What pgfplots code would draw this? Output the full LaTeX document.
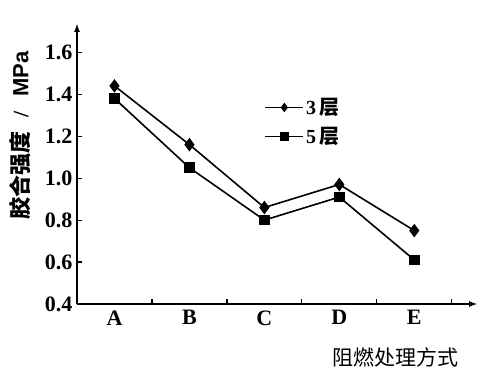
\documentclass[border=0pt]{standalone}
\usepackage{pgfplots}
\pgfplotsset{compat=1.18}
\usepackage{fontspec}
\setmainfont{Liberation Serif}
\setsansfont{Liberation Sans}
\newfontfamily\cjk{Noto Sans CJK SC}
\usetikzlibrary{arrows.meta}
\begin{document}
\begin{tikzpicture}[x=1pt,y=1pt]
\path[use as bounding box] (0,0) rectangle (500,377);
\begin{axis}[
  at={(77pt,73pt)}, anchor=south west,
  scale only axis, width=401pt, height=281pt,
  xmin=-0.5, xmax=4.85, ymin=0.4, ymax=1.74,
  axis lines=left,
  axis line style={line width=2pt, -{Latex[length=9pt,width=6pt]}},
  xtick={0.5,1.5,2.5,3.5,4.5}, xticklabels={},
  extra x ticks={0,1,2,3,4},
  extra x tick labels={A,B,C,D,E},
  extra x tick style={major tick length=0pt},
  ytick={0.4,0.6,0.8,1.0,1.2,1.4,1.6},
  yticklabels={0.4,0.6,0.8,1.0,1.2,1.4,1.6},
  tick align=inside, major tick length=5pt,
  tick style={line width=1.2pt, black},
  tick label style={font=\fontsize{22}{22}\selectfont\bfseries},
  xticklabel style={yshift=-3pt},
  yticklabel style={xshift=-1pt},
  clip=false,
  xlabel={\cjk\fontsize{21}{21}\selectfont 阻燃处理方式},
  xlabel style={at={(axis description cs:0.795,-0.189)}, anchor=center},
  ylabel={\fontsize{22}{22}\selectfont{\cjk\bfseries 胶合强度}\hspace{14pt}{\bfseries /}\hspace{14pt}{\sffamily\bfseries MPa}},
  ylabel style={at={(axis description cs:-0.142,0.60)}, anchor=center},
  legend style={draw=none, fill=none, at={(axis cs:2.0,1.39)}, anchor=north west,
    font=\fontsize{20}{20}\selectfont\bfseries, row sep=7pt, inner sep=0pt},
  legend cell align=left,
  legend image code/.code={\draw[line width=1.5pt] (0pt,0pt) -- (38pt,0pt); \draw[mark size=3.5pt, #1] plot coordinates {(19pt,0pt)};},
]
\addplot[black, line width=1.6pt, mark=diamond*, mark size=5.5pt] coordinates {
(0,1.44) (1,1.16) (2,0.86) (3,0.97) (4,0.75)};
\addlegendentry{3\,{\cjk 层}}
\addplot[black, line width=1.6pt, mark=square*, mark size=4.5pt] coordinates {
(0,1.38) (1,1.05) (2,0.80) (3,0.91) (4,0.61)};
\addlegendentry{5\,{\cjk 层}}
\end{axis}
\end{tikzpicture}
\end{document}
